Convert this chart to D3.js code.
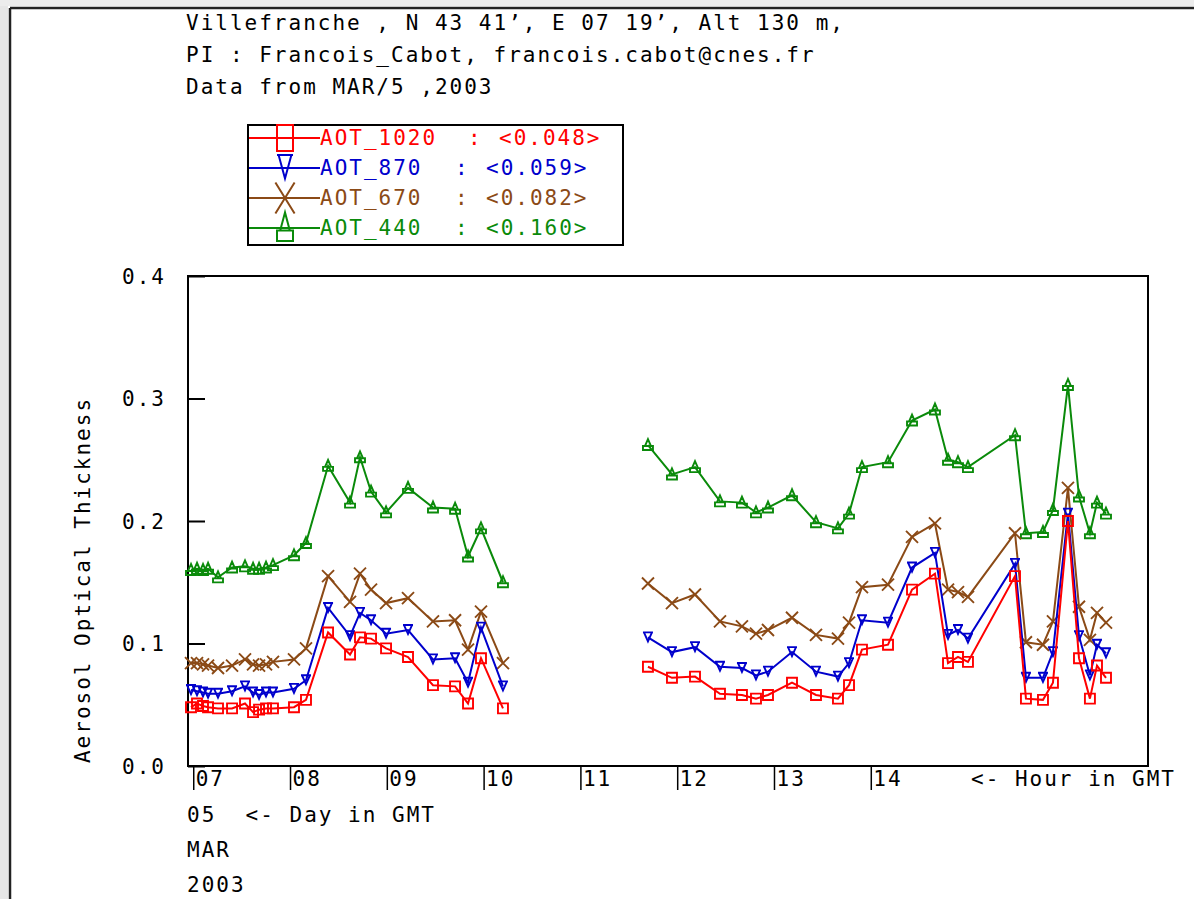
<!DOCTYPE html>
<html>
<head>
<meta charset="utf-8">
<script src="https://cdn.jsdelivr.net/npm/d3@7"></script>
<style>
  body { margin: 0; background: #fff; }
  svg text { font-family: "DejaVu Sans Mono", "Liberation Mono", monospace; font-size: 21px; letter-spacing: 2px; }
</style>
</head>
<body>
<svg id="chart" width="1194" height="899"></svg>
<script>
// observation times (hour GMT, MAR 5 2003)
const hours = [
  6.977, 7.039, 7.101, 7.153, 7.256, 7.401, 7.535, 7.618, 7.680, 7.752, 7.824, 8.041,
  8.165, 8.393, 8.620, 8.723, 8.837, 8.992, 9.219, 9.477, 9.705, 9.839, 9.973, 10.200,
  11.698, 11.946, 12.184, 12.442, 12.669, 12.814, 12.938, 13.186, 13.434, 13.661, 13.775,
  13.909, 14.178, 14.426, 14.663, 14.798, 14.901, 15.004, 15.490, 15.603, 15.779, 15.882,
  16.037, 16.151, 16.264, 16.337, 16.430
];

const aot1020 = [
  0.048, 0.051, 0.049, 0.048, 0.047, 0.047, 0.051, 0.044, 0.046, 0.047, 0.047, 0.048,
  0.054, 0.109, 0.091, 0.105, 0.104, 0.096, 0.089, 0.066, 0.065, 0.051, 0.088, 0.047,
  0.081, 0.072, 0.073, 0.059, 0.058, 0.055, 0.058, 0.068, 0.058, 0.055, 0.066,
  0.095, 0.099, 0.144, 0.157, 0.084, 0.089, 0.085, 0.155, 0.055, 0.054, 0.068,
  0.200, 0.088, 0.055, 0.082, 0.072
];
const aot870 = [
  0.062, 0.061, 0.060, 0.059, 0.059, 0.061, 0.065, 0.060, 0.058, 0.060, 0.060, 0.063,
  0.070, 0.129, 0.106, 0.125, 0.119, 0.108, 0.111, 0.087, 0.088, 0.068, 0.113, 0.065,
  0.105, 0.093, 0.097, 0.081, 0.080, 0.074, 0.077, 0.093, 0.077, 0.073, 0.084,
  0.119, 0.117, 0.162, 0.174, 0.107, 0.111, 0.104, 0.165, 0.072, 0.072, 0.093,
  0.206, 0.106, 0.074, 0.099, 0.092
];
const aot670 = [
  0.084, 0.084, 0.083, 0.082, 0.080, 0.082, 0.087, 0.083, 0.082, 0.083, 0.085, 0.087,
  0.096, 0.155, 0.134, 0.157, 0.144, 0.133, 0.137, 0.118, 0.119, 0.095, 0.126, 0.084,
  0.149, 0.133, 0.140, 0.118, 0.114, 0.108, 0.111, 0.121, 0.107, 0.104, 0.117,
  0.146, 0.148, 0.187, 0.198, 0.144, 0.142, 0.138, 0.190, 0.101, 0.099, 0.118,
  0.227, 0.130, 0.103, 0.125, 0.117
];
const aot440 = [
  0.160, 0.161, 0.160, 0.161, 0.154, 0.162, 0.163, 0.161, 0.161, 0.162, 0.164, 0.172,
  0.182, 0.245, 0.215, 0.252, 0.224, 0.207, 0.227, 0.211, 0.210, 0.171, 0.194, 0.150,
  0.262, 0.238, 0.244, 0.216, 0.215, 0.207, 0.211, 0.221, 0.199, 0.194, 0.206,
  0.244, 0.248, 0.282, 0.291, 0.250, 0.248, 0.244, 0.270, 0.190, 0.191, 0.209,
  0.311, 0.220, 0.190, 0.215, 0.206
];

const seriesNames = ['AOT_1020', 'AOT_870', 'AOT_670', 'AOT_440'];
const seriesMeans = ['<0.048>', '<0.059>', '<0.082>', '<0.160>'];
const seriesColors = ['#ff0000', '#0000cc', '#8b4a16', '#0a8a0a'];
const yTicks = [0.0, 0.1, 0.2, 0.3, 0.4];
const hourTicks = [7, 8, 9, 10, 11, 12, 13, 14];
const titleLines = [
  "Villefranche , N 43 41\u2019, E 07 19\u2019, Alt 130 m,",
  "PI : Francois_Cabot, francois.cabot@cnes.fr",
  "Data from MAR/5 ,2003"
];
const dateLines = ['05  <- Day in GMT', 'MAR', '2003'];

// marker shapes, one per series
const markers = [
  'M-5,-5H5V5H-5Z',
  'M-5,-5H5M-4,-5L0,4L4,-5',
  'M-6,-6L6,6M-6,6L6,-6',
  'M0,-6L-3,1H3Z M-5,1H5V5H-5Z'
];

const svg = d3.select('#chart');

// window frame
svg.append('rect').attr('x', 0).attr('y', 0).attr('width', 8).attr('height', 899).attr('fill', '#e6e6e6');
svg.append('rect').attr('x', 0).attr('y', 0).attr('width', 1194).attr('height', 6).attr('fill', '#ececec');
svg.append('line').attr('x1', 10).attr('x2', 10).attr('y1', 8).attr('y2', 899).attr('stroke', '#222').attr('stroke-width', 2.5);
svg.append('line').attr('x1', 10).attr('x2', 1194).attr('y1', 8).attr('y2', 8).attr('stroke', '#222').attr('stroke-width', 2.5);

const plotLeft = 188, plotRight = 1148, plotTop = 276, plotBottom = 766;

const x = d3.scaleLinear().domain([6.946, 16.864]).range([plotLeft, plotRight]);
const y = d3.scaleLinear().domain([0, 0.4]).range([plotBottom, plotTop]);

// title block
svg.selectAll('.title')
  .data(titleLines)
  .enter()
    .append('text')
    .attr('class', 'title')
    .attr('x', 186)
    .attr('y', (d, i) => 30 + i * 32)
    .attr('fill', '#000')
    .style('white-space', 'pre')
    .text(d => d);

// plot box
svg.append('rect')
  .attr('x', plotLeft).attr('y', plotTop)
  .attr('width', plotRight - plotLeft).attr('height', plotBottom - plotTop)
  .attr('fill', 'none').attr('stroke', '#000').attr('stroke-width', 2);

// y axis, ticks pointing into the plot
const yAxis = svg.append('g')
  .attr('transform', `translate(${plotLeft},0)`)
  .call(d3.axisLeft(y).tickValues(yTicks).tickFormat(d3.format('.1f')).tickSize(-17).tickPadding(22));
yAxis.select('.domain').remove();
yAxis.selectAll('line').attr('stroke', '#000').attr('stroke-width', 2);
yAxis.selectAll('text').attr('font-size', null).attr('font-family', null).attr('fill', '#000').attr('dy', '0.35em');

svg.append('text')
  .attr('transform', 'translate(90,580) rotate(-90)')
  .attr('text-anchor', 'middle')
  .attr('fill', '#000')
  .text('Aerosol Optical Thickness');

// x axis: hour ticks hanging below the box, label right of each tick
const xAxis = svg.append('g')
  .attr('transform', `translate(0,${plotBottom})`)
  .call(d3.axisBottom(x).tickValues(hourTicks).tickFormat(d => d3.format('02d')(d)).tickSize(24).tickPadding(0));
xAxis.select('.domain').remove();
xAxis.selectAll('line').attr('stroke', '#000').attr('stroke-width', 1.5);
xAxis.selectAll('text')
  .attr('font-size', null).attr('font-family', null)
  .attr('fill', '#000')
  .attr('text-anchor', 'start')
  .attr('x', 2)
  .attr('y', 20)
  .attr('dy', 0);

svg.append('text')
  .attr('x', 1176).attr('y', plotBottom + 20)
  .attr('text-anchor', 'end')
  .attr('fill', '#000')
  .style('white-space', 'pre')
  .text('<- Hour in GMT');

svg.selectAll('.date')
  .data(dateLines)
  .enter()
    .append('text')
    .attr('class', 'date')
    .attr('x', 187)
    .attr('y', (d, i) => 822 + i * 35)
    .attr('fill', '#000')
    .style('white-space', 'pre')
    .text(d => d);

// series lines and markers
const allSeries = [aot1020, aot870, aot670, aot440];

// split into runs where the gap between observations is larger than an hour
function segments(vals) {
  const runs = [];
  let cur = [];
  hours.forEach((h, i) => {
    if (i > 0 && h - hours[i - 1] > 1) { runs.push(cur); cur = []; }
    cur.push([h, vals[i]]);
  });
  runs.push(cur);
  return runs;
}

const line = d3.line().x(d => x(d[0])).y(d => y(d[1]));

// draw back to front: green first, red last
[3, 2, 1, 0].forEach(k => {
  const g = svg.append('g');
  g.selectAll('path.line')
    .data(segments(allSeries[k]))
    .enter()
      .append('path')
      .attr('class', 'line')
      .attr('d', line)
      .attr('fill', 'none')
      .attr('stroke', seriesColors[k])
      .attr('stroke-width', 2);

  g.selectAll('path.mark')
    .data(hours.map((h, i) => [h, allSeries[k][i]]))
    .enter()
      .append('path')
      .attr('class', 'mark')
      .attr('d', markers[k])
      .attr('transform', d => `translate(${x(d[0])},${y(d[1])})`)
      .attr('fill', 'none')
      .attr('stroke', seriesColors[k])
      .attr('stroke-width', 1.9);
});

// legend
const legend = svg.append('g');
legend.append('rect')
  .attr('x', 248).attr('y', 125).attr('width', 375).attr('height', 120)
  .attr('fill', '#fff').attr('stroke', '#000').attr('stroke-width', 2);

const legendRows = legend.selectAll('g.row')
  .data(seriesNames)
  .enter()
    .append('g')
    .attr('class', 'row')
    .attr('transform', (d, i) => `translate(0,${138 + i * 30})`);

legendRows.append('line')
  .attr('x1', 249).attr('x2', 320).attr('y1', 0).attr('y2', 0)
  .attr('stroke', (d, i) => seriesColors[i]).attr('stroke-width', 2);

legendRows.append('path')
  .attr('d', (d, i) => markers[i])
  .attr('transform', 'translate(285,0) scale(1.6,2.6)')
  .attr('fill', 'none')
  .attr('stroke', (d, i) => seriesColors[i])
  .attr('stroke-width', 2)
  .attr('vector-effect', 'non-scaling-stroke');

legendRows.append('text')
  .attr('x', 320).attr('y', 7)
  .attr('fill', (d, i) => seriesColors[i])
  .text(d => d);

legendRows.append('text')
  .attr('x', (d, i) => i === 0 ? 468 : 455).attr('y', 7)
  .attr('fill', (d, i) => seriesColors[i])
  .text(':');

legendRows.append('text')
  .attr('x', (d, i) => i === 0 ? 499 : 486).attr('y', 7)
  .attr('fill', (d, i) => seriesColors[i])
  .text((d, i) => seriesMeans[i]);
</script>
</body>
</html>
